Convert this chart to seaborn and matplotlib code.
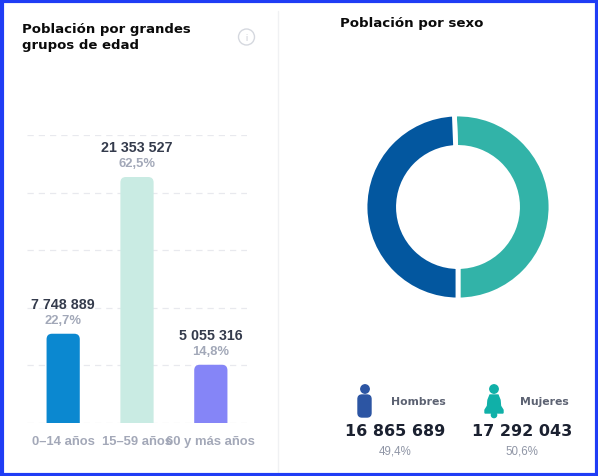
import matplotlib
matplotlib.use("Agg")
import matplotlib.pyplot as plt
import seaborn as sns
import pandas as pd
from matplotlib.patches import Rectangle, Circle, FancyBboxPatch, Polygon

# ---- data ----
age_groups = ["0–14 años", "15–59 años", "60 y más años"]
age_values = [7748889, 21353527, 5055316]
age_pct = ["22,7%", "62,5%", "14,8%"]
age_colors = ["#0b88d0", "#c9ebe3", "#8585f7"]

sex_labels = ["Hombres", "Mujeres"]
sex_values = [16865689, 17292043]
sex_pct = ["49,4%", "50,6%"]
sex_colors = ["#03579f", "#32b3a8"]

def fmt(v):
    return f"{v:,}".replace(",", " ")

sns.set_theme(style="white")
plt.rcParams['font.family'] = ['Liberation Sans', 'DejaVu Sans']

W, H = 598, 477
fig = plt.figure(figsize=(W/100, H/100), dpi=100)
fig.patch.set_facecolor("white")

def fx(x): return x / W
def fy(y): return 1 - y / H

# ---- bar chart ----
L, R, T, B = 27, 247, 136, 424
ax = fig.add_axes([fx(L), fy(B), (R-L)/W, (B-T)/H])
df = pd.DataFrame({"grupo": age_groups, "valor": age_values})
sns.barplot(data=df, x="grupo", y="valor", hue="grupo", palette=age_colors,
            width=0.45, ax=ax, legend=False, saturation=1)
ax.set_xlim(-0.49, 2.49)
ax.set_ylim(0, 25e6)
ax.set_yticks([0, 5e6, 10e6, 15e6, 20e6, 25e6])
ax.yaxis.grid(True, linestyle=(0, (5, 4)), color="#e8e9ee", linewidth=0.9)
ax.set_axisbelow(True)
ax.tick_params(axis="y", left=False, labelleft=False)
ax.tick_params(axis="x", bottom=False, pad=3, labelsize=9.4, labelcolor="#a3a8b8")
for lab in ax.get_xticklabels():
    lab.set_fontweight("bold")
ax.set_xlabel("")
ax.set_ylabel("")
for s in ax.spines.values():
    s.set_visible(False)

# rounded tops: rounded box extending below the axis, clipped at zero
px_per_unit_x = (R - L) / 2.98
px_per_unit_y = (B - T) / 25e6
rpx = 5.5
rx = rpx / px_per_unit_x
ry = rpx / px_per_unit_y
for p, col in zip(list(ax.patches), age_colors):
    x0, w, h = p.get_x(), p.get_width(), p.get_height()
    p.set_visible(False)
    rp = FancyBboxPatch((x0 + rx, -3*ry), w - 2*rx, h + 2*ry,
                        boxstyle=f"round,pad={rx},rounding_size={rx}",
                        mutation_aspect=ry/rx, facecolor=col, edgecolor="none",
                        linewidth=0, clip_on=True)
    ax.add_patch(rp)
    rp.set_clip_path(ax.patch)

for i, (v, pc) in enumerate(zip(age_values, age_pct)):
    ax.annotate(fmt(v), (i, v), xytext=(0, 30), textcoords="offset pixels",
                ha="center", va="center", fontsize=10.3, fontweight="bold",
                color="#343b4c", annotation_clip=False)
    ax.annotate(pc, (i, v), xytext=(0, 14), textcoords="offset pixels",
                ha="center", va="center", fontsize=9.4, fontweight="bold",
                color="#a2a8b8", annotation_clip=False)

# ---- donut ----
cx, cy, r = 458, 208, 93
axp = fig.add_axes([fx(cx - r), fy(cy + r), 2*r/W, 2*r/H])
axp.pie([sex_values[1], sex_values[0]], colors=[sex_colors[1], sex_colors[0]],
        startangle=-90, counterclock=True, radius=1,
        wedgeprops=dict(width=0.36, edgecolor="white", linewidth=3.5))
axp.set_xlim(-1, 1)
axp.set_ylim(-1, 1)
axp.set_aspect("equal")
axp.axis("off")

# ---- overlay ----
ov = fig.add_axes([0, 0, 1, 1], zorder=-1)
ov.set_xlim(0, W)
ov.set_ylim(H, 0)
ov.axis("off")
ov2 = fig.add_axes([0, 0, 1, 1], zorder=5)
ov2.set_xlim(0, W)
ov2.set_ylim(H, 0)
ov2.axis("off")
ov2.patch.set_alpha(0)

ov.plot([278, 278], [12, 477], color="#f0f1f3", lw=1)
ov2.add_patch(Rectangle((1.5, 1.5), W - 3, H - 3, fill=False, edgecolor="#1f3df5", lw=3))

title_font = ['DejaVu Sans']
ov2.text(22, 30, "Población por grandes", fontsize=9.5, fontweight="bold",
         family=title_font, color="#0b0b0b", va="center", ha="left")
ov2.text(22, 46, "grupos de edad", fontsize=9.5, fontweight="bold",
         family=title_font, color="#0b0b0b", va="center", ha="left")
ov2.text(340, 23, "Población por sexo", fontsize=9.6, fontweight="bold",
         family=title_font, color="#0b0b0b", va="center", ha="left")

# info icon
ov2.add_patch(Circle((246.5, 38), 8, fill=False, edgecolor="#d5d8df", lw=1))
ov2.text(246.5, 38.5, "i", fontsize=6.5, color="#c8ccd4", ha="center", va="center")

# man icon
mc = "#2c55a3"
ov2.add_patch(Circle((365, 390), 4.2, color=mc))
ov2.add_patch(FancyBboxPatch((358, 396), 13, 22, boxstyle="round,pad=0,rounding_size=4", color=mc))
# woman icon
wc = "#10b0a8"
ov2.add_patch(Circle((494, 390), 4.2, color=wc))
ov2.add_patch(Polygon([(490, 396), (498, 396), (500, 401), (500.5, 407), (503, 411),
                       (503, 414), (485, 414), (485, 411), (487.5, 407), (488, 401)],
                      closed=True, color=wc))
ov2.add_patch(Circle((494, 416), 2.6, color=wc))

for xl, xc, lab, val, pc in [(391, 395, sex_labels[0], sex_values[0], sex_pct[0]),
                             (520, 522, sex_labels[1], sex_values[1], sex_pct[1])]:
    ov2.text(xl, 402, lab, fontsize=7.8, fontweight="bold", family=title_font,
             color="#5c6272", ha="left", va="center")
    ov2.text(xc, 432, fmt(val), fontsize=11.5, fontweight="bold", family=title_font,
             color="#1b2130", ha="center", va="center")
    ov2.text(xc, 452, pc, fontsize=8.3, color="#9096a6", ha="center", va="center")

fig.savefig("out.png", dpi=100, facecolor="white")
